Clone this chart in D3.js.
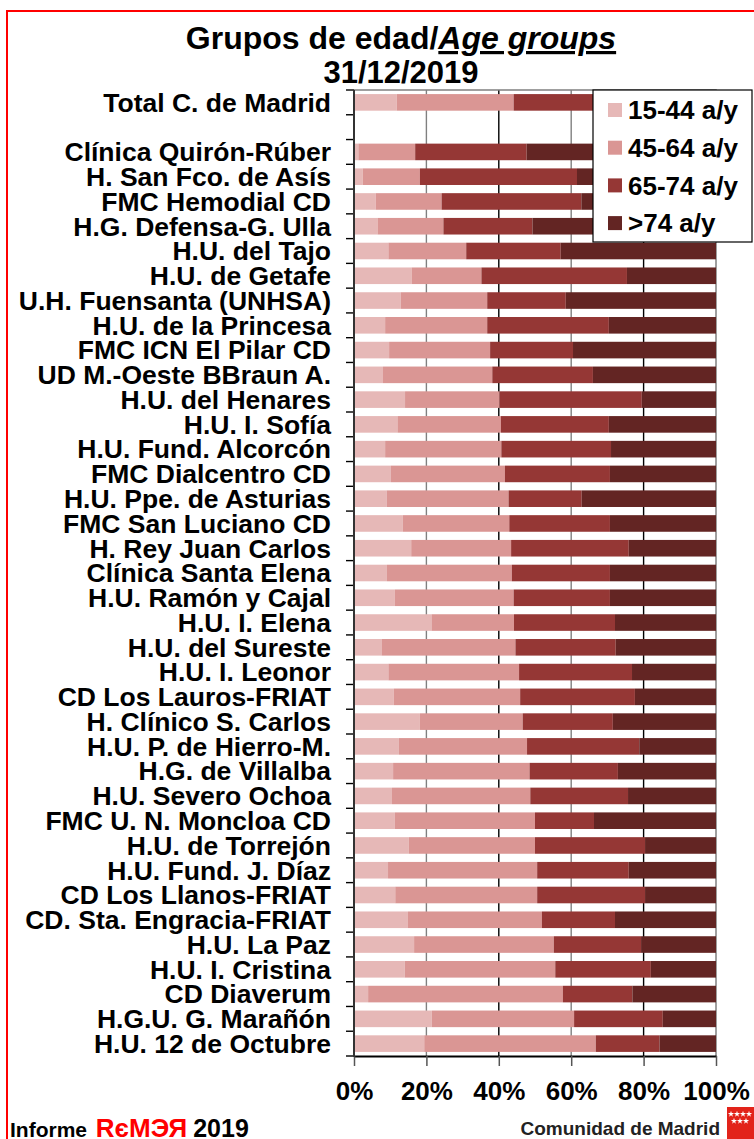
<!DOCTYPE html>
<html>
<head>
<meta charset="utf-8">
<script src="https://cdn.jsdelivr.net/npm/d3@7"></script>
<style>
    body { margin: 0; background: #fff; }
    text { font-family: "Liberation Sans", Arial, sans-serif; font-weight: bold; }
</style>
</head>
<body>
<div id="chart"></div>
<script>
var categories = [
    "Total C. de Madrid", "",
    "Clínica Quirón-Rúber", "H. San Fco. de Asís", "FMC Hemodial CD", "H.G. Defensa-G. Ulla",
    "H.U. del Tajo", "H.U. de Getafe", "U.H. Fuensanta (UNHSA)", "H.U. de la Princesa",
    "FMC ICN El Pilar CD", "UD M.-Oeste BBraun A.", "H.U. del Henares", "H.U. I. Sofía",
    "H.U. Fund. Alcorcón", "FMC Dialcentro CD", "H.U. Ppe. de Asturias", "FMC San Luciano CD",
    "H. Rey Juan Carlos", "Clínica Santa Elena", "H.U. Ramón y Cajal", "H.U. I. Elena",
    "H.U. del Sureste", "H.U. I. Leonor", "CD Los Lauros-FRIAT", "H. Clínico S. Carlos",
    "H.U. P. de Hierro-M.", "H.G. de Villalba", "H.U. Severo Ochoa", "FMC U. N. Moncloa CD",
    "H.U. de Torrejón", "H.U. Fund. J. Díaz", "CD Los Llanos-FRIAT", "CD. Sta. Engracia-FRIAT",
    "H.U. La Paz", "H.U. I. Cristina", "CD Diaverum", "H.G.U. G. Marañón", "H.U. 12 de Octubre"
];

var seriesNames = ["15-44 a/y", "45-64 a/y", "65-74 a/y", ">74 a/y"];
var seriesColors = ["#e6b8b7", "#da9694", "#953735", "#632523"];

// percentages per age group, same order as categories
var age1544 = [11.8, 0, 1.2, 2.4, 6.0, 6.5, 9.5, 15.9, 12.9, 8.6, 9.7, 8.0, 14.1, 12.0, 8.6, 10.2, 9.0, 13.5, 15.8, 9.1,
    11.3, 21.4, 7.6, 9.5, 11.0, 18.2, 12.4, 10.8, 10.5, 11.3, 15.1, 9.4, 11.4, 14.9, 16.6, 14.0, 3.9, 21.5, 19.4];
var age4564 = [32.3, 0, 15.7, 15.8, 18.2, 18.2, 21.5, 19.3, 23.9, 28.2, 27.9, 30.2, 26.1, 28.6, 32.1, 31.5, 33.7, 29.4, 27.6, 34.5,
    32.8, 22.8, 37.0, 36.1, 34.9, 28.4, 35.4, 37.7, 38.2, 38.7, 34.9, 41.2, 39.2, 37.0, 38.6, 41.6, 53.8, 39.3, 47.4];
var age6574 = [26.4, 0, 30.8, 43.4, 38.6, 24.6, 26.1, 40.2, 21.7, 33.6, 22.9, 27.8, 39.3, 29.8, 30.3, 29.0, 20.2, 27.8, 32.5, 27.1,
    26.6, 27.9, 27.7, 31.2, 31.7, 24.9, 31.0, 24.4, 27.0, 16.3, 30.4, 25.3, 29.8, 20.2, 24.1, 26.4, 19.2, 24.5, 17.6];
var age74 = [29.5, 0, 52.3, 38.4, 37.2, 50.7, 42.9, 24.6, 41.5, 29.6, 39.5, 34.0, 20.5, 29.6, 29.0, 29.3, 37.1, 29.3, 24.1, 29.3,
    29.3, 27.9, 27.7, 23.2, 22.4, 28.5, 21.2, 27.1, 24.3, 33.7, 19.6, 24.1, 19.6, 27.9, 20.7, 18.0, 23.1, 14.7, 15.6];

var xTicks = [0, 0.2, 0.4, 0.6, 0.8, 1];

(function () {
    var width = 754, height = 1139;
    var plotLeft = 354, plotRight = 716, plotTop = 90, plotBottom = 1056;

    var rows = categories.map(function (c, i) {
        return { name: c, a: age1544[i], b: age4564[i], c: age6574[i], d: age74[i] };
    });

    var stacked = d3.stack().keys(["a", "b", "c", "d"])
        .offset(d3.stackOffsetExpand)(rows);

    var x = d3.scaleLinear().domain([0, 1]).range([plotLeft, plotRight]);
    var y = d3.scaleBand().domain(d3.range(categories.length))
        .range([plotTop, plotBottom]).paddingInner(0.33).paddingOuter(0.165);

    var svg = d3.select("#chart").append("svg")
        .attr("width", width)
        .attr("height", height);

    // red frame
    svg.append("rect")
        .attr("x", 7).attr("y", 11)
        .attr("width", 760).attr("height", 1150)
        .attr("fill", "none")
        .attr("stroke", "#ff0000")
        .attr("stroke-width", 2);

    // title
    var title = svg.append("text")
        .attr("x", 401).attr("y", 49)
        .attr("text-anchor", "middle")
        .attr("font-size", 32);
    title.append("tspan").text("Grupos de edad/");
    title.append("tspan")
        .attr("font-style", "italic")
        .attr("text-decoration", "underline")
        .text("Age groups");

    svg.append("text")
        .attr("x", 401).attr("y", 83)
        .attr("text-anchor", "middle")
        .attr("font-size", 31)
        .text("31/12/2019");

    // grid
    svg.append("g")
        .selectAll("line")
        .data(xTicks.slice(1, -1))
        .join("line")
        .attr("x1", function (d) { return x(d); })
        .attr("x2", function (d) { return x(d); })
        .attr("y1", plotTop).attr("y2", plotBottom)
        .attr("stroke", function (d, i) { return i % 2 ? "#000" : "#808080"; })
        .attr("stroke-width", 1.4);

    // plot border (top + right)
    svg.append("path")
        .attr("d", "M" + plotLeft + "," + plotTop + "H" + plotRight + "V" + plotBottom)
        .attr("fill", "none")
        .attr("stroke", "#808080")
        .attr("stroke-width", 1.5);

    // bars
    svg.append("g")
        .selectAll("g")
        .data(stacked)
        .join("g")
        .attr("fill", function (d, i) { return seriesColors[i]; })
        .selectAll("rect")
        .data(function (d) { return d; })
        .join("rect")
        .attr("x", function (d) { return isNaN(d[0]) ? 0 : x(d[0]); })
        .attr("y", function (d, i) { return y(i); })
        .attr("width", function (d) { return isNaN(d[1]) ? 0 : x(d[1]) - x(d[0]); })
        .attr("height", y.bandwidth());

    // x axis
    var xAxis = svg.append("g")
        .attr("transform", "translate(0," + plotBottom + ")")
        .call(d3.axisBottom(x).tickValues(xTicks).tickFormat(d3.format(".0%"))
            .tickSizeInner(10).tickSizeOuter(0).tickPadding(16));
    xAxis.select(".domain").attr("stroke", "#000").attr("stroke-width", 2);
    xAxis.selectAll(".tick line").attr("stroke", "#555").attr("stroke-width", 1.5);
    xAxis.selectAll("text")
        .attr("fill", "#000")
        .attr("font-size", 26)
        .attr("font-family", "Liberation Sans, Arial, sans-serif");

    // y axis: ticks at band boundaries
    var bounds = d3.range(categories.length + 1).map(function (i) { return plotTop + i * y.step(); });
    svg.append("g")
        .selectAll("line")
        .data(bounds)
        .join("line")
        .attr("x1", plotLeft - 8).attr("x2", plotLeft)
        .attr("y1", function (d) { return d; })
        .attr("y2", function (d) { return d; })
        .attr("stroke", "#000")
        .attr("stroke-width", 1.4);

    svg.append("line")
        .attr("x1", plotLeft).attr("x2", plotLeft)
        .attr("y1", plotTop).attr("y2", plotBottom + 1)
        .attr("stroke", "#333")
        .attr("stroke-width", 2);

    svg.append("g")
        .selectAll("text")
        .data(categories)
        .join("text")
        .attr("x", 331)
        .attr("y", function (d, i) { return y(i) + y.bandwidth() / 2; })
        .attr("dy", "0.35em")
        .attr("text-anchor", "end")
        .attr("font-size", 26.5)
        .text(function (d) { return d; });

    // legend
    var legend = svg.append("g");
    legend.append("rect")
        .attr("x", 593).attr("y", 90)
        .attr("width", 159).attr("height", 152)
        .attr("fill", "#fff")
        .attr("stroke", "#000")
        .attr("stroke-width", 1.2);

    var items = legend.selectAll("g")
        .data(seriesNames)
        .join("g")
        .attr("transform", function (d, i) { return "translate(608," + (110 + i * 37.7) + ")"; });
    items.append("rect")
        .attr("x", 0).attr("y", -7)
        .attr("width", 14).attr("height", 14)
        .attr("fill", function (d, i) { return seriesColors[i]; });
    items.append("text")
        .attr("x", 20).attr("dy", "0.35em")
        .attr("font-size", 26)
        .text(function (d) { return d; });

    // footer
    var foot = svg.append("text")
        .attr("x", 10).attr("y", 1137)
        .attr("font-size", 21);
    foot.append("tspan").text("Informe ");
    foot.append("tspan").attr("fill", "#ff0000").attr("font-size", 26).attr("dx", 3).text("R\u0454M\u042D\u042F");
    foot.append("tspan").attr("font-size", 25).attr("dx", 6).text("2019");

    svg.append("text")
        .attr("x", 720).attr("y", 1135)
        .attr("text-anchor", "end")
        .attr("font-size", 19)
        .attr("fill", "#222")
        .text("Comunidad de Madrid");

    svg.append("rect")
        .attr("x", 727).attr("y", 1107)
        .attr("width", 30).attr("height", 34)
        .attr("fill", "#e2231a");

    var stars = [[731, 1114], [737, 1114], [743, 1114], [749, 1114], [734, 1121], [740, 1121], [746, 1121]];
    svg.append("g")
        .selectAll("path")
        .data(stars)
        .join("path")
        .attr("transform", function (d) { return "translate(" + d[0] + "," + d[1] + ")"; })
        .attr("d", d3.symbol(d3.symbolStar, 12))
        .attr("fill", "#fff");
})();
</script>
</body>
</html>
